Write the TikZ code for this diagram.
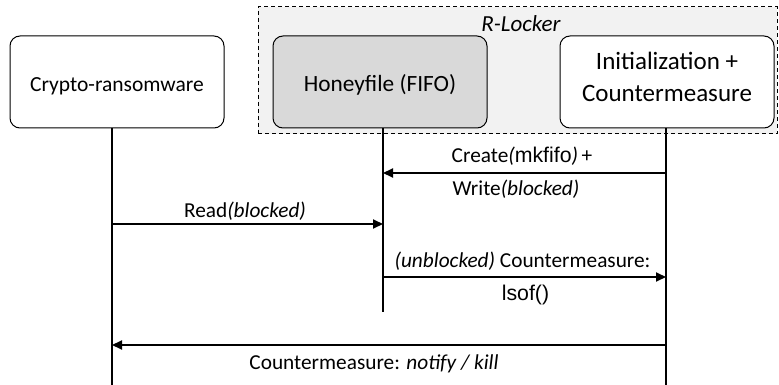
\documentclass[tikz,border=0pt]{standalone}
\usepackage{fontspec}
\setmainfont{Carlito}
\newfontfamily\arialfont{Liberation Sans}
\usetikzlibrary{arrows.meta, positioning, fit}

\begin{document}
\begin{tikzpicture}[
    x=1pt, y=-1pt,
    node distance = 48pt,
    % Styles
    base/.style = {rectangle, rounded corners=10pt, draw=black, line width=1pt, minimum width=214pt, minimum height=92pt, align=center, inner sep=0pt},
    actor/.style = {base, fill=white, font=\fontsize{21.5}{26}\selectfont, text height=22pt, text depth=2pt},
    fifo/.style = {base, fill=black!15, font=\fontsize{23.3}{28}\selectfont, text height=22pt, text depth=2pt},
    guard/.style = {base, fill=white, font=\fontsize{25}{32}\selectfont, text height=52pt, text depth=12pt},
    lifeline/.style = {line width=2.8pt, draw=black},
    msg/.style = {-{Triangle[length=10pt, width=9pt]}, line width=2pt, draw=black},
    lbl/.style = {anchor=base, inner sep=0pt, font=\fontsize{21.3}{26}\selectfont},
    group_box/.style = {rectangle, draw=black, line width=1pt, dash pattern=on 4pt off 3pt, fill=black!5, inner sep=0pt}
]

\useasboundingbox (0,0) rectangle (779,385);

% --- R-LOCKER GROUP ---
\coordinate (group_nw) at (258,7);
\coordinate (group_se) at (777,134);
\node[group_box, fit=(group_nw) (group_se)] (rlocker_box) {};
\node[anchor=base, font=\itshape\fontsize{23}{28}\selectfont] (rlocker_lbl) at (521,32) {R-Locker};

% --- PARTICIPANTS ---
\node[actor] (crypto) at (117,82) {Crypto-ransomware};
\node[fifo, right=48pt of crypto] (honey) {Honeyfile (FIFO)};
\node[guard, right=72pt of honey] (init) {Initialization +\\Countermeasure};

% --- LIFELINES ---
\coordinate (crypto_end) at (112,385);
\coordinate (honey_end) at (383,312);
\coordinate (init_end) at (666,385);

\draw[lifeline] (crypto.south -| crypto_end) -- (crypto_end);
\draw[lifeline] (honey.south -| honey_end) -- (honey_end);
\draw[lifeline] (init.south -| init_end) -- (init_end);

% --- MESSAGES ---
\coordinate (create_y) at (0,173);
\coordinate (read_y) at (0,224);
\coordinate (check_y) at (0,277);
\coordinate (kill_y) at (0,345);

\draw[msg] (init_end |- create_y) --
    node[lbl, xshift=-2.5pt, yshift=11pt] (create_lbl) {Create\textit{(}{\arialfont mkfifo}\textit{)}\,+}
    node[lbl, xshift=-8.5pt, yshift=-22pt] (write_lbl) {Write\textit{(blocked)}}
    (honey_end |- create_y);
\draw[msg] (crypto_end |- read_y) --
    node[lbl, xshift=-2.5pt, yshift=7pt] (read_lbl) {Read\textit{(blocked)}}
    (honey_end |- read_y);
\draw[msg] (honey_end |- check_y) --
    node[lbl, xshift=-2pt, yshift=10pt] (check_lbl) {\textit{(unblocked)} Countermeasure:}
    node[lbl, xshift=1pt, yshift=-23pt] (lsof_lbl) {{\arialfont lsof()}}
    (init_end |- check_y);
\draw[msg] (init_end |- kill_y) --
    node[lbl, xshift=-15pt, yshift=-24pt] (kill_lbl) {Countermeasure: \textit{notify / kill}}
    (crypto_end |- kill_y);

\end{tikzpicture}
\end{document}
